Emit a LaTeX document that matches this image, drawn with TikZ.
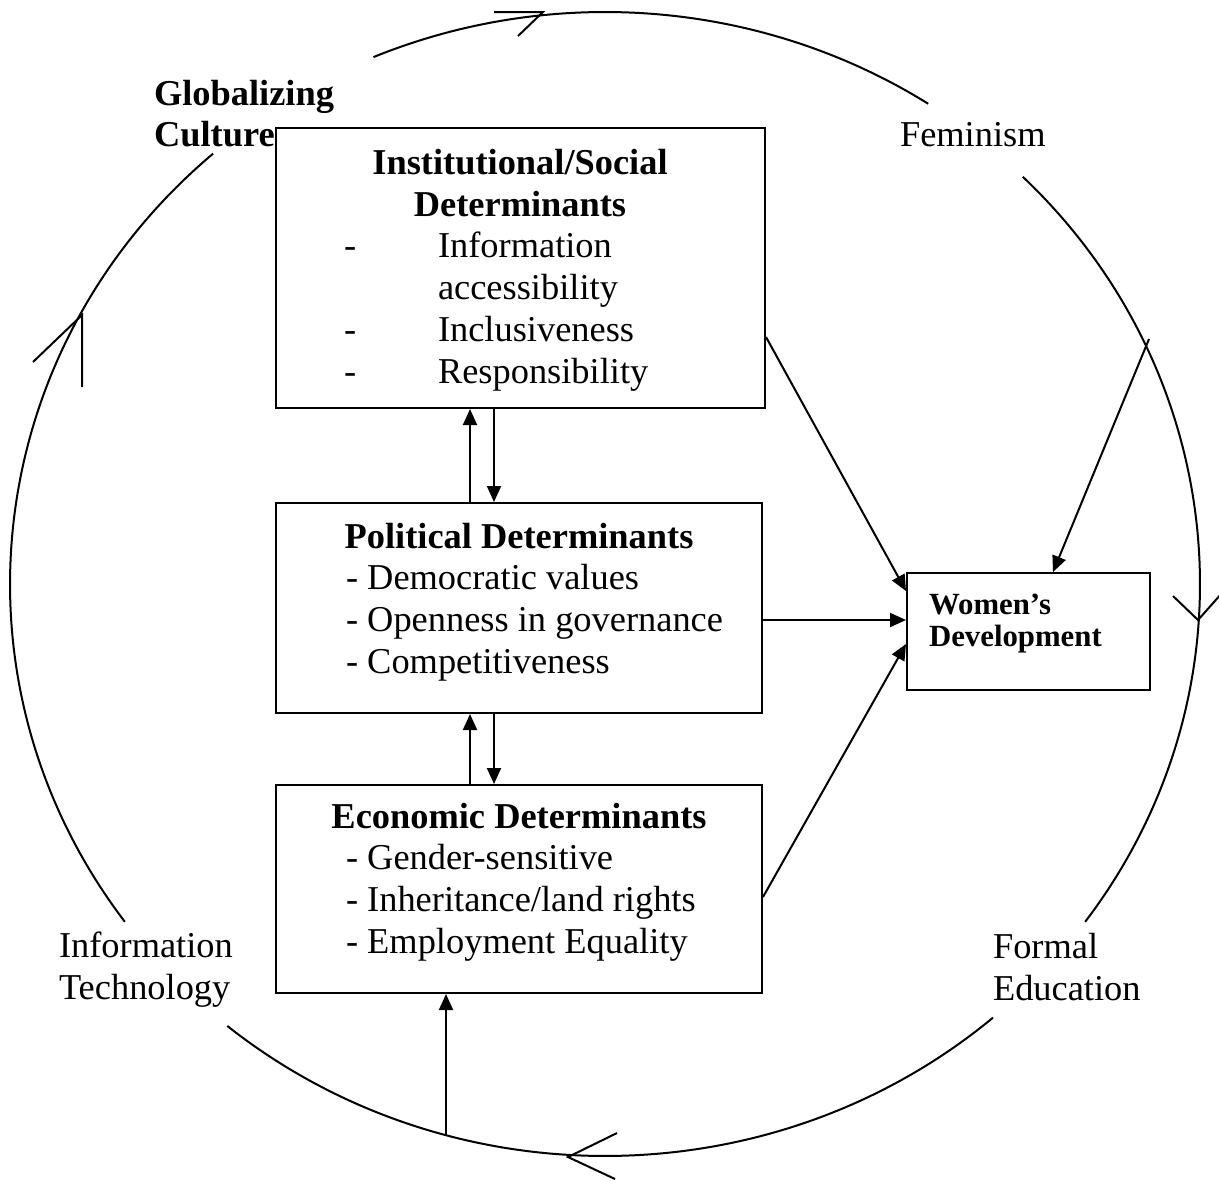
\documentclass[tikz,border=0pt]{standalone}
\usepackage{fontspec}
\setmainfont{Liberation Serif}
\usetikzlibrary{arrows.meta,positioning,calc}

\tikzset{
  detbox/.style={draw, line width=1pt, inner sep=0pt},
  item/.style={font=\fontsize{18.2}{21}\selectfont, inner sep=0pt, anchor=base west},
  head/.style={font=\fontsize{18.2}{21}\selectfont\bfseries, inner sep=0pt, anchor=base},
  force/.style={font=\fontsize{18.2}{21}\selectfont, inner sep=0pt, anchor=base west, align=left},
}

\begin{document}
\begin{tikzpicture}[x=0.5pt, y=-0.5pt, line width=1pt,
  >={Triangle[length=8pt,width=7pt]}]
  \useasboundingbox (0,0) rectangle (1219,1180);
  % Outer cycle, broken where the forces are written
  \foreach \a/\b in {-112.9/-57.1, -45.4/36.2, 49.3/129.4, 143.8/228.8}
    \draw (605,584) ++(\a:595 and 572) arc[start angle=\a, end angle=\b, x radius=595, y radius=572];
  % Open direction marks on the cycle
  \draw (494,12) -- (543,12) -- (518,36);
  \draw (1173,596) -- (1198,620) -- (1222,593);
  \draw (617,1133) -- (568,1157) -- (615,1179);
  \draw (82,387) -- (82,315) -- (33,362);
  % Forces round the cycle (base = last line)
  \node[force, font=\fontsize{18.2}{20.5}\selectfont\bfseries] (globe) at (153,146) {Globalizing\\Culture};
  \node[force] (feminism) at (899,146) {Feminism};
  \node[force] (formal) at (992,1000) {Formal\\Education};
  \node[force] (infotech) at (58,999) {Information\\Technology};

  % Determinant boxes
  \node[detbox, minimum width=244.5pt, minimum height=140pt] (inst) at (520.5,268) {};
  \node[detbox, minimum width=243pt, minimum height=105pt] (pol) at (519,608) {};
  \node[detbox, minimum width=243pt, minimum height=104pt] (eco) at (519,889) {};
  \node[detbox, minimum width=121.5pt, minimum height=58.5pt] (women) at (1028.5,631.5) {};

  % Institutional/Social
  \node[head] (inst-h1) at (520,174) {Institutional/Social};
  \node[head] (inst-h2) at (520,216) {Determinants};
  \foreach \y/\t/\d in {257/Information/-, 299/accessibility/, 341/Inclusiveness/-, 383/Responsibility/-}{
    \node[item] (inst-d\y) at (343,\y) {\d};
    \node[item] (inst-t\y) at (437,\y) {\t};
  }
  % Political
  \node[head] (pol-h) at (519,548) {Political Determinants};
  \foreach \t [count=\i] in {Democratic values, Openness in governance, Competitiveness}
    \node[item] (pol-\i) at (345,547+42*\i) {- \t};
  % Economic
  \node[head] (eco-h) at (519,828) {Economic Determinants};
  \foreach \t [count=\i] in {Gender-sensitive, Inheritance/land rights, Employment Equality}
    \node[item] (eco-\i) at (345,827+42*\i) {- \t};
  % Women's Development
  \node[force, font=\fontsize{15.4}{16}\selectfont\bfseries] (women-t) at (928,646) {Women’s\\Development};

  % Links between the determinants
  \foreach \lo/\hi in {pol/inst, eco/pol}{
    \coordinate (up) at ([xshift=-24.5pt]\lo.north);
    \coordinate (dn) at ([xshift=-12.5pt]\lo.north);
    \draw[->] (up) -- (up |- \hi.south);
    \draw[->] (dn |- \hi.south) -- (dn);
  }
  % Links into Women's Development
  \draw[->] ([yshift=-105pt]inst.north east) -- ([yshift=-9.5pt]women.north west);
  \coordinate (polout) at ([yshift=-6pt]pol.east);
  \draw[->] (polout) -- (polout -| women.west);
  \draw[->] ([yshift=-56.5pt]eco.north east) -- ([yshift=-36pt]women.north west);
  \coordinate (fem) at (1149,339);
  \draw[->] (fem) -- ([xshift=12.25pt]women.north);
  \coordinate (bot) at (446,1135);
  \draw[->] (bot) -- (bot |- eco.south);
\end{tikzpicture}
\end{document}
